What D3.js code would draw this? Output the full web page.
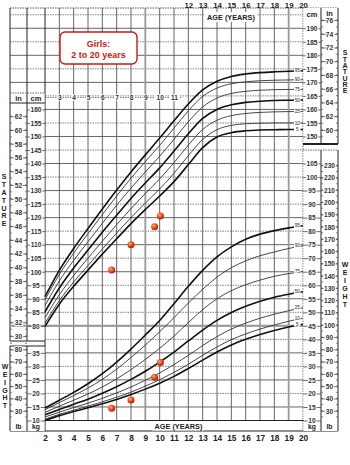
<!DOCTYPE html>
<html>
<head>
<meta charset="utf-8">
<script src="https://cdn.jsdelivr.net/npm/d3@7"></script>
<style>
  html, body { margin: 0; padding: 0; background: #fff; }
  svg { display: block; font-family: "Liberation Sans", Arial, sans-serif; }
</style>
</head>
<body>
<svg id="chart" width="350" height="465"></svg>
<script>
// Age in years for each tabulated point of the percentile curves
const ages = [2, 3, 4, 5, 6, 7, 8, 9, 10, 11, 12, 13, 14, 15, 16, 17, 18, 19, 20];
const percentiles = ["5", "10", "25", "50", "75", "90", "95"];

// Stature-for-age percentiles (cm)
const statureP5  = [79.8, 88.0, 94.6, 100.6, 106.5, 112.2, 117.8, 123.0, 128.0, 133.3, 139.6, 145.9, 149.8, 151.4, 152.1, 152.4, 152.5, 152.6, 152.6];
const statureP10 = [81.0, 89.3, 96.2, 102.3, 108.4, 114.3, 120.0, 125.4, 130.6, 136.4, 142.9, 148.9, 152.5, 154.1, 154.7, 154.9, 155.0, 155.0, 155.0];
const statureP25 = [83.0, 91.5, 98.6, 105.0, 111.3, 117.4, 123.3, 128.9, 134.3, 140.3, 146.8, 152.6, 156.0, 157.7, 158.5, 158.9, 159.1, 159.2, 159.2];
const statureP50 = [85.2, 94.0, 101.4, 108.0, 114.6, 120.9, 127.1, 132.8, 138.4, 144.6, 151.0, 156.7, 160.0, 161.7, 162.6, 163.0, 163.3, 163.4, 163.5];
const statureP75 = [87.5, 96.6, 104.2, 111.1, 117.9, 124.6, 130.9, 136.9, 142.7, 149.0, 155.4, 160.9, 164.2, 165.9, 166.7, 167.1, 167.3, 167.4, 167.4];
const statureP90 = [89.6, 99.0, 106.9, 114.1, 121.1, 128.0, 134.6, 140.7, 146.7, 153.1, 159.5, 164.8, 167.9, 169.5, 170.2, 170.6, 170.8, 170.9, 171.0];
const statureP95 = [90.8, 100.5, 108.6, 116.0, 123.2, 130.2, 136.9, 143.2, 149.4, 155.8, 162.0, 167.2, 170.4, 172.2, 173.1, 173.6, 173.9, 174.1, 174.3];

// Weight-for-age percentiles (kg)
const weightP5  = [10.0, 11.8, 13.3, 14.7, 16.2, 17.8, 19.6, 21.6, 23.8, 26.3, 29.2, 32.3, 35.3, 37.9, 40.0, 41.8, 43.3, 44.6, 45.6];
const weightP10 = [10.5, 12.3, 13.8, 15.3, 16.9, 18.6, 20.5, 22.7, 25.1, 27.8, 30.8, 34.1, 37.2, 39.9, 42.0, 43.8, 45.3, 46.7, 47.8];
const weightP25 = [11.3, 13.1, 14.8, 16.4, 18.2, 20.2, 22.4, 24.9, 27.6, 30.7, 34.1, 37.7, 41.0, 43.8, 46.0, 47.8, 49.3, 50.6, 51.7];
const weightP50 = [12.1, 14.1, 16.0, 17.9, 20.1, 22.5, 25.2, 28.2, 31.6, 35.3, 39.4, 43.4, 47.0, 49.9, 52.2, 54.1, 55.6, 56.7, 57.6];
const weightP75 = [13.0, 15.3, 17.5, 19.8, 22.4, 25.4, 28.8, 32.6, 36.7, 41.2, 46.2, 51.0, 55.0, 58.0, 60.2, 61.9, 63.3, 64.3, 65.0];
const weightP90 = [14.0, 16.6, 19.2, 22.0, 25.2, 29.0, 33.3, 37.9, 42.8, 48.0, 53.4, 58.5, 63.0, 66.5, 69.0, 70.9, 72.3, 73.6, 74.6];
const weightP95 = [14.6, 17.5, 20.4, 23.6, 27.3, 31.6, 36.4, 41.6, 47.0, 53.2, 59.6, 65.5, 70.5, 74.2, 77.0, 78.9, 80.2, 81.2, 82.0];

// Measurements recorded for the child
const visitAges    = [6.65, 8.0, 9.65, 10.05];
const visitStature = [100.6, 110.0, 116.6, 120.6];
const visitWeight  = [14.5, 17.6, 26.0, 31.4];

// Tick labels
const ageTicks       = d3.range(2, 21);
const topAgeTicks    = d3.range(12, 21);
const insetAgeTicks  = d3.range(3, 12);
const cmTicksLeft    = d3.range(80, 161, 5);
const cmTicksRight   = d3.range(150, 191, 5);
const inTicksLeft    = d3.range(30, 63, 2);
const inTicksRight   = d3.range(60, 77, 2);
const kgTicksLeft    = d3.range(10, 36, 5);
const kgTicksRight   = d3.range(10, 106, 5);
const lbTicksLeft    = d3.range(30, 81, 10);
const lbTicksRight   = d3.range(30, 231, 10);
const staturePercentiles = [statureP5, statureP10, statureP25, statureP50, statureP75, statureP90, statureP95];
const weightPercentiles  = [weightP5, weightP10, weightP25, weightP50, weightP75, weightP90, weightP95];

const svg = d3.select("#chart");
const ink = "#222";
const fontFamily = "Liberation Sans, Arial, sans-serif";

// Layout: main grid spans ages 2..20, with scale columns on both sides
const gridLeft = 45, gridRight = 303, gridTop = 8, gridBottom = 420.5;
const colA = 10, colB = 27, colC = 321, colD = 338;

const x = d3.scaleLinear().domain([2, 20]).range([gridLeft, gridRight]);
// Stature and weight share one vertical grid: kg = cm - 35
const pxPerUnit = 2.705;
const yCm = d3.scaleLinear().domain([45, 200]).range([gridBottom, gridBottom - 155 * pxPerUnit]);
const yKg = d3.scaleLinear().domain([10, 165]).range(yCm.range());
const yIn = d3.scaleLinear().domain([45 / 2.54, 200 / 2.54]).range(yCm.range());
const yLb = d3.scaleLinear().domain([10 * 2.20462, 165 * 2.20462]).range(yCm.range());

// ---------- grid ----------
const grid = svg.append("g").attr("class", "grid");

// horizontal lines every 5 cm
const hVals = d3.range(50, 200, 5).filter(v => yCm(v) > gridTop + 1);
grid.selectAll("line.h").data(hVals).join("line")
  .attr("x1", d => yCm(d) < 93 ? colA : gridLeft)
  .attr("x2", gridRight)
  .attr("y1", d => yCm(d)).attr("y2", d => yCm(d))
  .attr("stroke", d => d % 10 === 0 ? "#555" : "#777")
  .attr("stroke-width", 0.9)
  .attr("stroke-dasharray", d => d % 10 === 0 ? null : "1.5,1");

// vertical year lines
grid.selectAll("line.v").data(ageTicks.slice(1, -1)).join("line")
  .attr("x1", d => x(d)).attr("x2", d => x(d))
  .attr("y1", gridTop).attr("y2", gridBottom)
  .attr("stroke", d => (d === 9 || d === 19) ? "#999" : "#555")
  .attr("stroke-width", d => (d === 9 || d === 19) ? 1.8 : 0.9);

// heavy rule at 80 cm / 45 kg
grid.append("line")
  .attr("x1", colA).attr("x2", gridRight)
  .attr("y1", yCm(80)).attr("y2", yCm(80))
  .attr("stroke", "#999").attr("stroke-width", 2);

// outer frame of the plotting area
grid.append("line").attr("x1", gridLeft).attr("x2", gridLeft).attr("y1", gridTop).attr("y2", 431)
  .attr("stroke", ink).attr("stroke-width", 1);
grid.append("line").attr("x1", gridRight).attr("x2", gridRight).attr("y1", gridTop).attr("y2", 431)
  .attr("stroke", "#555").attr("stroke-width", 0.9).attr("stroke-dasharray", "1.5,1");
grid.append("line").attr("x1", colA).attr("x2", colD).attr("y1", gridTop).attr("y2", gridTop)
  .attr("stroke", "#555").attr("stroke-width", 1).attr("stroke-dasharray", "1.5,1");
grid.append("line").attr("x1", colA).attr("x2", colD).attr("y1", gridBottom).attr("y2", gridBottom)
  .attr("stroke", ink).attr("stroke-width", 1);
grid.append("line").attr("x1", colA).attr("x2", colD).attr("y1", 431).attr("y2", 431)
  .attr("stroke", ink).attr("stroke-width", 1);

// ---------- side scale columns ----------
function columnBox(x0, x1, y0, y1) {
  svg.append("rect").attr("x", x0).attr("y", y0).attr("width", x1 - x0).attr("height", y1 - y0)
    .attr("fill", "#fff").attr("stroke", "none");
}
columnBox(colA, gridLeft - 0.5, 93, 341);
columnBox(colA, gridLeft - 0.5, 346, 431);
columnBox(gridRight + 0.5, colD, gridTop, 144);
columnBox(gridRight + 0.5, colD, 150, 431);

function vline(xv, y0, y1, dashed, w, color) {
  return svg.append("line").attr("x1", xv).attr("x2", xv).attr("y1", y0).attr("y2", y1)
    .attr("stroke", color || (dashed ? "#666" : ink)).attr("stroke-width", w || 1)
    .attr("stroke-dasharray", dashed ? "1.5,1" : null);
}
function hline(x0, x1, yv, dashed, w, color) {
  return svg.append("line").attr("x1", x0).attr("x2", x1).attr("y1", yv).attr("y2", yv)
    .attr("stroke", color || (dashed ? "#666" : ink)).attr("stroke-width", w || 1)
    .attr("stroke-dasharray", dashed ? "1.5,1" : null);
}
// left columns
vline(colA, gridTop, 341); vline(colB, gridTop, 341);
vline(colA, 346, 431); vline(colB, 346, 431);
hline(colA, gridLeft, 93, true); hline(colA, gridLeft, 103, false);
hline(colA, gridLeft, 341, false); hline(colA, gridLeft, 346, false);
// right columns
vline(colC, gridTop, 144); vline(colD, gridTop, 144);
vline(colC, 150, 431); vline(colD, 150, 431);
hline(gridRight, colD, 144, false, 2);
hline(gridRight, colD, 150, true);

// heavy rule continues through the left scale
hline(colA, gridLeft, yCm(80), false, 2, "#999");

// scale helper: tick line across the column, label centred with a white halo
function scaleColumn(scale, values, x0, x1) {
  const g = svg.append("g").attr("transform", `translate(${x0},0)`)
    .call(d3.axisRight(scale).tickValues(values).tickSize(x1 - x0).tickPadding(0).tickFormat(d3.format("d")));
  g.select(".domain").remove();
  g.selectAll(".tick line").attr("stroke", "#444").attr("stroke-width", 0.8);
  g.selectAll(".tick text")
    .attr("x", (x1 - x0) / 2).attr("text-anchor", "middle").attr("dy", "0.35em")
    .attr("fill", "#333").attr("font-size", 6.6).attr("font-weight", "bold")
    .attr("font-family", fontFamily)
    .attr("stroke", "#fff").attr("stroke-width", 2.2).attr("paint-order", "stroke");
  return g;
}
function minorTicks(scale, values, x0, x1) {
  const g = svg.append("g");
  g.selectAll("line.l").data(values).join("line")
    .attr("x1", x0).attr("x2", x0 + 2).attr("y1", d => scale(d)).attr("y2", d => scale(d))
    .attr("stroke", "#555").attr("stroke-width", 0.7);
  g.selectAll("line.r").data(values).join("line")
    .attr("x1", x1 - 2).attr("x2", x1).attr("y1", d => scale(d)).attr("y2", d => scale(d))
    .attr("stroke", "#555").attr("stroke-width", 0.7);
}

minorTicks(yIn, d3.range(30, 63, 1), colA, colB);
minorTicks(yIn, d3.range(59, 77, 1), colC, colD);
minorTicks(yLb, d3.range(25, 86, 5), colA, colB);
minorTicks(yLb, d3.range(25, 231, 5), colC, colD);

scaleColumn(yIn, inTicksLeft, colA, colB);
scaleColumn(yCm, cmTicksLeft, colB, gridLeft);
scaleColumn(yCm, cmTicksRight, gridRight, colC);
scaleColumn(yIn, inTicksRight, colC, colD);
scaleColumn(yLb, lbTicksLeft, colA, colB);
scaleColumn(yKg, kgTicksLeft, colB, gridLeft);
scaleColumn(yKg, kgTicksRight, gridRight, colC);
scaleColumn(yLb, lbTicksRight, colC, colD);

// column headers
function label(txt, xv, yv, size, opts = {}) {
  return svg.append("text").attr("x", xv).attr("y", yv).text(txt)
    .attr("text-anchor", opts.anchor || "middle").attr("dy", "0.35em")
    .attr("font-size", size).attr("font-weight", "bold")
    .attr("fill", opts.fill || ink)
    .attr("font-family", fontFamily);
}
label("in", (colA + colB) / 2, 98, 7.5);
label("cm", (colB + gridLeft) / 2, 98, 7.5);
label("lb", (colA + colB) / 2, 427, 6.8);
label("kg", (colB + gridLeft) / 2, 427, 6.8);
label("cm", (gridRight + colC) / 2, 14, 7.5);
label("in", (colC + colD) / 2, 13, 7.5);
label("kg", (gridRight + colC) / 2, 427, 6.8);
label("lb", (colC + colD) / 2, 427, 6.8);

// vertical captions
"STATURE".split("").forEach((c, i) => label(c, 4, 177 + i * 7.8, 7));
"WEIGHT".split("").forEach((c, i) => label(c, 5, 367 + i * 7.7, 7));
"STATURE".split("").forEach((c, i) => label(c, 345, 53 + i * 6.3, 7));
"WEIGHT".split("").forEach((c, i) => label(c, 345, 265 + i * 8, 7));

// ---------- age axes ----------
const bottomAxis = svg.append("g").attr("transform", "translate(0,433)")
  .call(d3.axisBottom(x).tickValues(ageTicks).tickSize(0).tickPadding(0).tickFormat(d3.format("d")));
bottomAxis.select(".domain").remove();
bottomAxis.selectAll("text").attr("font-size", 8.3).attr("font-weight", "bold").attr("fill", ink)
  .attr("font-family", fontFamily).attr("dy", "0.35em").attr("y", 5.5);

const topAxis = svg.append("g").attr("transform", "translate(0,0)")
  .call(d3.axisBottom(x).tickValues(topAgeTicks).tickSize(0).tickPadding(0).tickFormat(d3.format("d")));
topAxis.select(".domain").remove();
topAxis.selectAll("text").attr("font-size", 7.8).attr("font-weight", "bold").attr("fill", ink)
  .attr("font-family", fontFamily).attr("dy", "0.35em").attr("y", 5);

// small age guide along the stature header row
hline(gridLeft, x(11.6), 97.5, true, 0.8);
const insetAxis = svg.append("g").attr("transform", "translate(0,97.5)")
  .call(d3.axisBottom(x).tickValues(insetAgeTicks).tickSize(0).tickPadding(0).tickFormat(d3.format("d")));
insetAxis.select(".domain").remove();
insetAxis.selectAll(".tick").insert("rect", "text")
  .attr("x", d => d >= 10 ? -5 : -2.5).attr("y", -3.2)
  .attr("width", d => d >= 10 ? 10 : 5).attr("height", 6.4).attr("fill", "#fff");
insetAxis.selectAll("text").attr("font-size", 6.6).attr("font-weight", "bold").attr("fill", "#333")
  .attr("font-family", fontFamily).attr("dy", "0.35em").attr("y", 0);

// "AGE (YEARS)" captions
svg.append("rect").attr("x", 205).attr("y", 12).attr("width", 52).attr("height", 10).attr("fill", "#fff");
label("AGE (YEARS)", 231, 17, 7.3);
svg.append("rect").attr("x", 152).attr("y", 421.5).attr("width", 52).attr("height", 9).attr("fill", "#fff");
label("AGE (YEARS)", 178.5, 426, 7.3);

// title box
svg.append("rect").attr("x", 60).attr("y", 32).attr("width", 77).attr("height", 32).attr("rx", 5)
  .attr("fill", "#fff").attr("stroke", "#cc1a12").attr("stroke-width", 1.4);
label("Girls:", 98.5, 43.5, 9, { fill: "#cc1a12" });
label("2 to 20 years", 98.5, 54.5, 9, { fill: "#cc1a12" });

// ---------- percentile curves ----------
const heavy = new Set(["5", "50", "95"]);
function drawCurves(series, yScale) {
  const line = d3.line().x((d, i) => x(ages[i])).y(d => yScale(d)).curve(d3.curveMonotoneX);
  const g = svg.append("g").attr("fill", "none");
  g.selectAll("path").data(series).join("path")
    .attr("d", d => line(d))
    .attr("stroke", (d, i) => heavy.has(percentiles[i]) ? "#111" : "#333")
    .attr("stroke-width", (d, i) => heavy.has(percentiles[i]) ? 1.6 : 0.9);
  const lab = svg.append("g");
  series.forEach((s, i) => {
    const yv = yScale(s[s.length - 1]);
    lab.append("rect").attr("x", 294).attr("y", yv - 2.3).attr("width", 6.5).attr("height", 4.6).attr("fill", "#fff");
    lab.append("text").attr("x", 297.2).attr("y", yv).attr("dy", "0.35em").text(percentiles[i])
      .attr("text-anchor", "middle").attr("font-size", 4.6).attr("fill", ink)
      .attr("font-family", fontFamily);
  });
}
drawCurves(staturePercentiles, yCm);
drawCurves(weightPercentiles, yKg);

// ---------- child measurements ----------
const defs = svg.append("defs");
const grad = defs.append("radialGradient").attr("id", "dotFill").attr("cx", "38%").attr("cy", "35%").attr("r", "65%");
grad.append("stop").attr("offset", "0%").attr("stop-color", "#ffb27a");
grad.append("stop").attr("offset", "45%").attr("stop-color", "#f05a22");
grad.append("stop").attr("offset", "100%").attr("stop-color", "#b01e08");

svg.append("g").selectAll("circle.st").data(visitAges).join("circle")
  .attr("cx", d => x(d)).attr("cy", (d, i) => yCm(visitStature[i])).attr("r", 3.5)
  .attr("fill", "url(#dotFill)");
svg.append("g").selectAll("circle.wt").data(visitAges).join("circle")
  .attr("cx", d => x(d)).attr("cy", (d, i) => yKg(visitWeight[i])).attr("r", 3.5)
  .attr("fill", "url(#dotFill)");
</script>
</body>
</html>
